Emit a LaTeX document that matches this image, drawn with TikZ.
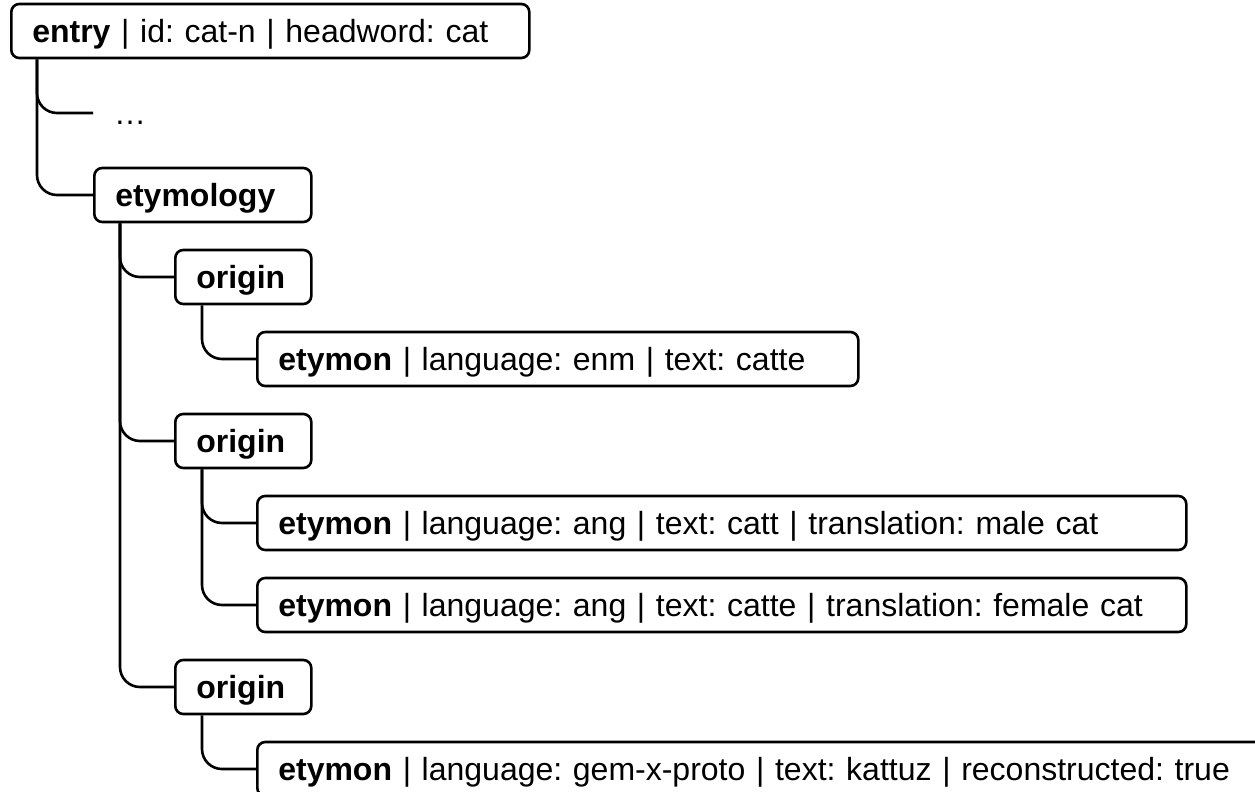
\documentclass[tikz,border=0pt]{standalone}
\usepackage{fontspec}
\setmainfont{Liberation Sans}
\frenchspacing
\begin{document}
\begin{tikzpicture}[x=1pt,y=-1pt,
  box/.style={draw, line width=2.6pt, rounded corners=8pt, anchor=west,
    inner xsep=21pt, inner ysep=0pt, minimum height=54pt,
    text height=23pt, text depth=0pt, align=left, font=\fontsize{32}{38}\selectfont},
  plain/.style={anchor=west, inner xsep=21pt, inner ysep=0pt, minimum height=54pt,
    text height=23pt, text depth=0pt, font=\fontsize{32}{38}\selectfont},
  conn/.style={line width=2.6pt, rounded corners=20pt}]
\clip (0,0) rectangle (1255,792);
\node[box, text width=476pt] (entry) at (10,31) {\textbf{entry} | id: cat-n | headword: cat};
\node[plain] (dots) at (93,113) {\ldots};
\node[box, text width=175pt] (etym) at (93,195) {\textbf{etymology}};
\node[box, text width=94pt] (or1) at (174,277) {\textbf{origin}};
\node[box, text width=559pt] (em1) at (256,359) {\textbf{etymon} | language: enm | text: catte};
\node[box, text width=94pt] (or2) at (174,441) {\textbf{origin}};
\node[box, text width=887pt] (em2) at (256,523) {\textbf{etymon} | language: ang | text: catt | translation: male cat};
\node[box, text width=887pt] (em3) at (256,605) {\textbf{etymon} | language: ang | text: catte | translation: female cat};
\node[box, text width=94pt] (or3) at (174,687) {\textbf{origin}};
\node[box, text width=1002pt] (em4) at (256,769) {\textbf{etymon} | language: gem-x-proto | text: kattuz | reconstructed: true};
\draw[conn] ([xshift=27pt]entry.south west) |- (dots.west);
\draw[conn] ([xshift=27pt]entry.south west) |- (etym.west);
\draw[conn] ([xshift=27pt]etym.south west) |- (or1.west);
\draw[conn] ([xshift=27pt]etym.south west) |- (or2.west);
\draw[conn] ([xshift=27pt]etym.south west) |- (or3.west);
\draw[conn] ([xshift=28pt]or1.south west) |- (em1.west);
\draw[conn] ([xshift=28pt]or2.south west) |- (em2.west);
\draw[conn] ([xshift=28pt]or2.south west) |- (em3.west);
\draw[conn] ([xshift=28pt]or3.south west) |- (em4.west);
\end{tikzpicture}
\end{document}
